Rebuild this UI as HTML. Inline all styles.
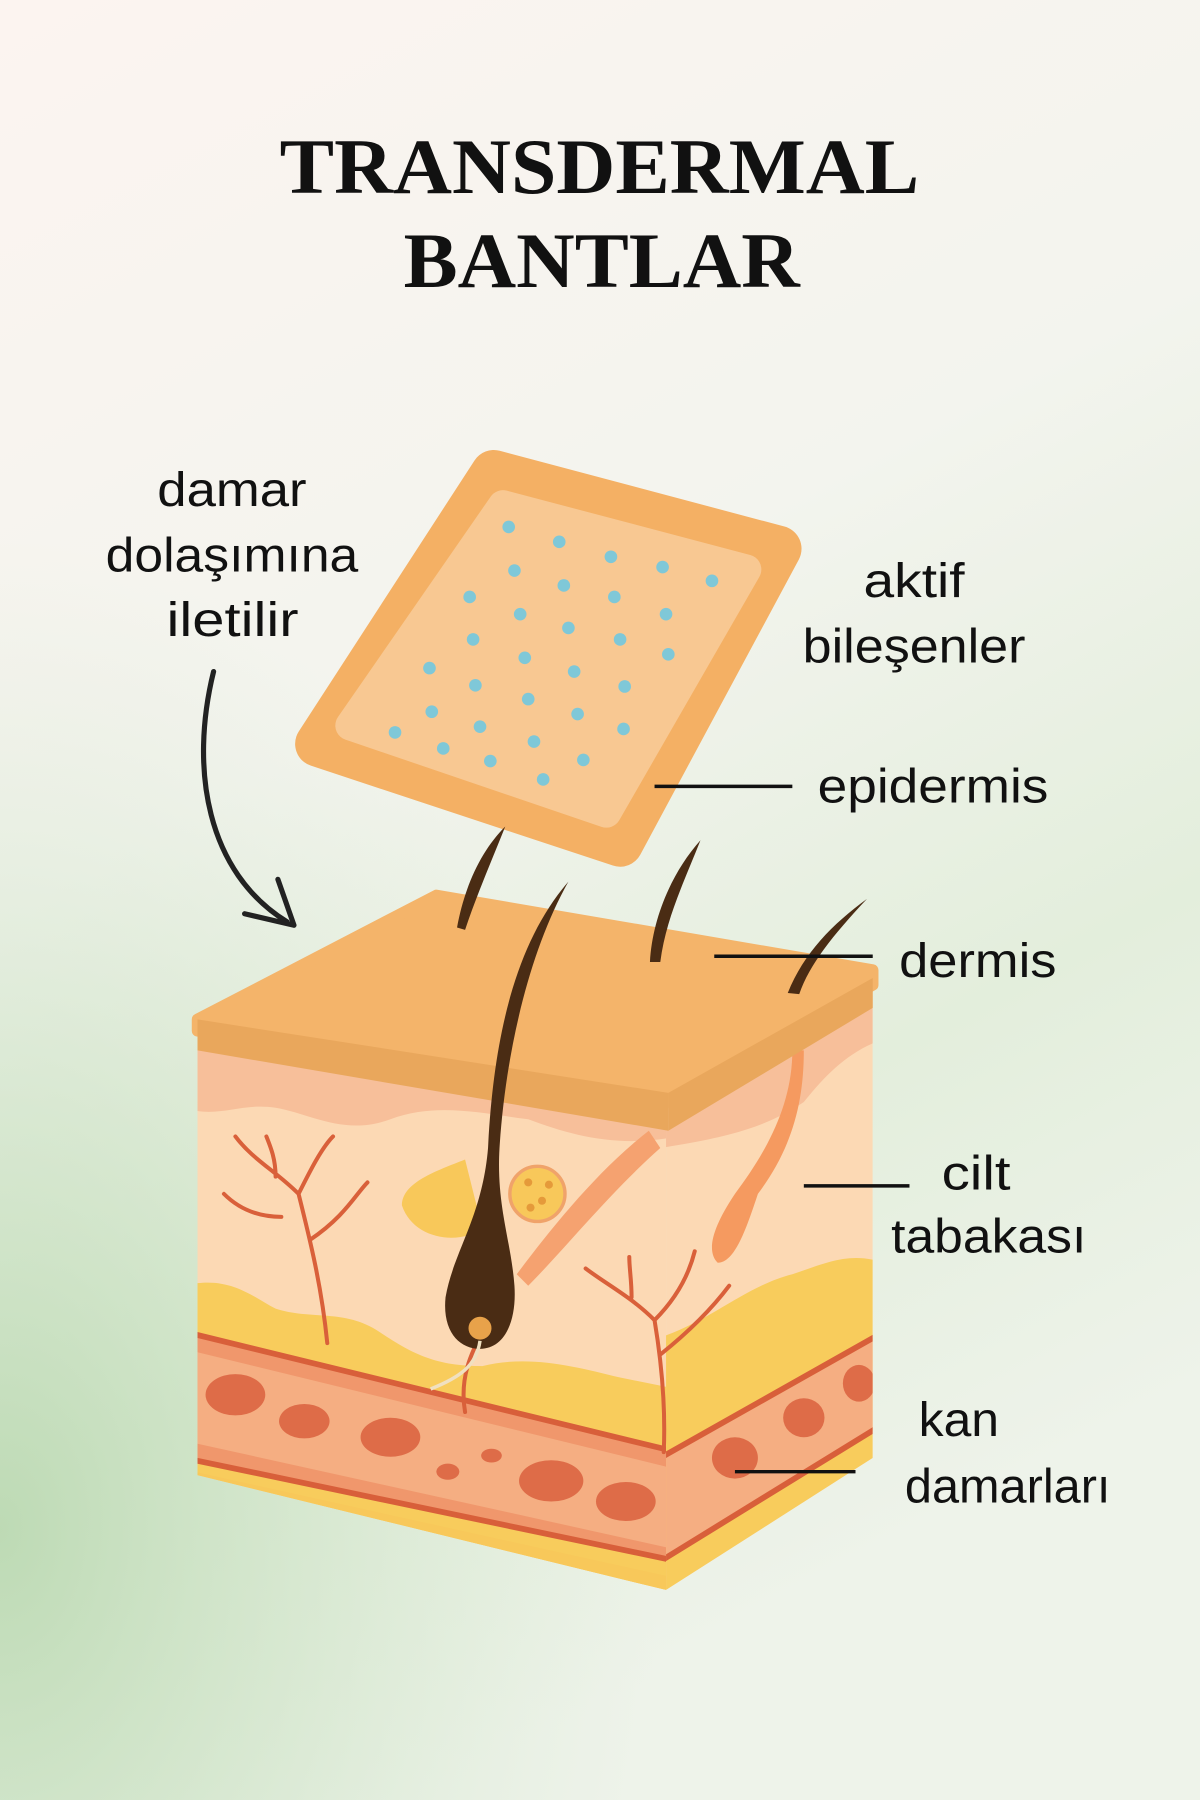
<!DOCTYPE html>
<html><head><meta charset="utf-8"><style>
html,body{margin:0;padding:0;width:1200px;height:1800px;overflow:hidden}
svg{display:block}
</style></head><body>
<svg width="1200" height="1800" viewBox="0 0 1045 1568" preserveAspectRatio="none" xmlns="http://www.w3.org/2000/svg">
<defs>
<linearGradient id="bg" x1="0" y1="0" x2="0.35" y2="1">
<stop offset="0" stop-color="#fcf4f0"/><stop offset="0.45" stop-color="#f3f4ee"/><stop offset="0.75" stop-color="#e3eedc"/><stop offset="1" stop-color="#eef3ea"/>
</linearGradient>
<radialGradient id="gr" cx="0" cy="0.85" r="0.55">
<stop offset="0" stop-color="#b9d8b0" stop-opacity="0.9"/><stop offset="1" stop-color="#d5e8cf" stop-opacity="0"/>
</radialGradient>
<clipPath id="front"><path d="M172,895 L580,960 L580,1385 L172,1285 Z"/></clipPath>
<clipPath id="side"><path d="M580,960 L760,855 L760,1270 L580,1385 Z"/></clipPath>
</defs>
<rect width="1045" height="1568" fill="url(#bg)"/>
<rect width="1045" height="1568" fill="url(#gr)"/>

<g font-family="'Liberation Serif',serif" font-weight="bold" font-size="68" text-anchor="middle" fill="#111">
<text x="522" y="168" textLength="557" lengthAdjust="spacingAndGlyphs">TRANSDERMAL</text>
<text x="524" y="250" textLength="345" lengthAdjust="spacingAndGlyphs">BANTLAR</text>
</g>

<!-- patch -->
<path d="M430,412 L678,478 L540,735 L277,648 Z" fill="#f4b064" stroke="#f4b064" stroke-width="40" stroke-linejoin="round"/>
<path d="M438,440 L650,496 L528,708 L305,632 Z" fill="#f8c892" stroke="#f8c892" stroke-width="26" stroke-linejoin="round"/>
<g fill="#7fc8d8">
<circle cx="443" cy="459" r="5.5"/><circle cx="487" cy="472" r="5.5"/><circle cx="532" cy="485" r="5.5"/><circle cx="577" cy="494" r="5.5"/><circle cx="620" cy="506" r="5.5"/>
<circle cx="448" cy="497" r="5.5"/><circle cx="491" cy="510" r="5.5"/><circle cx="535" cy="520" r="5.5"/><circle cx="580" cy="535" r="5.5"/>
<circle cx="409" cy="520" r="5.5"/><circle cx="453" cy="535" r="5.5"/><circle cx="495" cy="547" r="5.5"/><circle cx="540" cy="557" r="5.5"/><circle cx="582" cy="570" r="5.5"/>
<circle cx="412" cy="557" r="5.5"/><circle cx="457" cy="573" r="5.5"/><circle cx="500" cy="585" r="5.5"/><circle cx="544" cy="598" r="5.5"/>
<circle cx="374" cy="582" r="5.5"/><circle cx="414" cy="597" r="5.5"/><circle cx="460" cy="609" r="5.5"/><circle cx="503" cy="622" r="5.5"/><circle cx="543" cy="635" r="5.5"/>
<circle cx="376" cy="620" r="5.5"/><circle cx="418" cy="633" r="5.5"/><circle cx="465" cy="646" r="5.5"/><circle cx="508" cy="662" r="5.5"/>
<circle cx="344" cy="638" r="5.5"/><circle cx="386" cy="652" r="5.5"/><circle cx="427" cy="663" r="5.5"/><circle cx="473" cy="679" r="5.5"/>
</g>

<!-- cube front -->
<g clip-path="url(#front)">
<rect x="160" y="880" width="430" height="520" fill="#fcd9b4"/>
<path d="M160,900 L590,960 L590,990 C540,1000 500,990 460,975 C420,970 380,960 340,975 C300,990 270,970 240,965 C210,960 190,975 160,965 Z" fill="#f7bf9a"/>
<path d="M160,1120 C200,1110 220,1130 240,1140 C270,1150 300,1140 330,1160 C360,1180 380,1190 420,1190 C460,1180 500,1190 540,1200 L590,1210 L590,1400 L160,1400 Z" fill="#f8cc5c"/>
<path d="M160,1160 L590,1265 L590,1360 L160,1270 Z" fill="#f0976c"/>
<path d="M160,1175 L590,1280 L590,1350 L160,1255 Z" fill="#f5ae82"/>
<path d="M160,1160 L590,1265" stroke="#d85f3a" stroke-width="5"/>
<path d="M160,1270 L590,1360" stroke="#d85f3a" stroke-width="5"/>
<g fill="#de6c48"><ellipse cx="205" cy="1215" rx="26" ry="18"/><ellipse cx="265" cy="1238" rx="22" ry="15"/><ellipse cx="340" cy="1252" rx="26" ry="17"/><ellipse cx="390" cy="1282" rx="10" ry="7"/><ellipse cx="428" cy="1268" rx="9" ry="6"/><ellipse cx="480" cy="1290" rx="28" ry="18"/><ellipse cx="545" cy="1308" rx="26" ry="17"/></g>
<path d="M160,1280 L590,1375 L590,1400 L160,1400 Z" fill="#f8c85a"/>
</g>
<!-- cube side -->
<g clip-path="url(#side)">
<rect x="575" y="840" width="200" height="560" fill="#fcd9b4"/>
<path d="M575,965 L770,850 L770,905 C740,915 720,935 700,960 C670,980 640,990 575,1000 Z" fill="#f7bf9a"/>
<path d="M575,1165 C620,1150 650,1120 690,1110 C720,1100 740,1090 770,1100 L770,1400 L575,1400 Z" fill="#f8cc5c"/>
<path d="M575,1270 L770,1160 L770,1240 L575,1360 Z" fill="#f5ae82" stroke="#d85f3a" stroke-width="5"/>
<g fill="#de6c48"><ellipse cx="640" cy="1270" rx="20" ry="18"/><ellipse cx="700" cy="1235" rx="18" ry="17"/><ellipse cx="748" cy="1205" rx="14" ry="16"/></g>
</g>
<!-- vessels branches -->
<g fill="none" stroke="#d9603a" stroke-width="3.5" stroke-linecap="round">
<path d="M285,1170 C280,1120 270,1080 260,1040 M260,1040 C240,1020 220,1010 205,990 M260,1040 C270,1020 280,1000 290,990 M270,1080 C300,1060 310,1040 320,1030 M245,1060 C220,1060 205,1050 195,1040 M240,1025 C240,1010 236,1000 232,990"/>
<path d="M578,1265 C580,1220 575,1180 570,1150 M570,1150 C550,1130 530,1120 510,1105 M570,1150 C590,1130 600,1110 605,1090 M575,1180 C600,1160 620,1140 635,1120 M550,1130 C550,1115 548,1105 548,1095"/>
<path d="M405,1230 C400,1200 410,1180 420,1160"/>
</g>
<!-- glands -->
<path d="M350,1050 C350,1030 380,1020 405,1010 L420,1070 C400,1085 360,1080 350,1050 Z" fill="#f8c85a"/>
<circle cx="468" cy="1040" r="24" fill="#f8c85a" stroke="#f0a36a" stroke-width="3"/>
<g fill="#e59a3a"><circle cx="460" cy="1030" r="3.5"/><circle cx="472" cy="1046" r="3.5"/><circle cx="462" cy="1052" r="3.5"/><circle cx="478" cy="1032" r="3.5"/></g>
<path d="M450,1110 C480,1070 520,1020 565,985 L575,1000 C530,1040 490,1090 460,1120 Z" fill="#f5a270"/>
<path d="M690,915 C690,960 670,1000 640,1040 C620,1070 615,1090 625,1100 C640,1100 650,1070 660,1040 C690,1000 700,960 700,915 Z" fill="#f59a60"/>
<!-- top face -->
<path d="M172,888 L380,780 L760,845 L760,858 L582,960 L172,898 Z" fill="#f4b46a" stroke="#f4b46a" stroke-width="10" stroke-linejoin="round"/>
<path d="M172,888 L582,952 L582,985 L172,915 Z" fill="#e9a75c"/>
<path d="M582,952 L760,852 L760,878 L582,985 Z" fill="#e9a75c"/>
<!-- hairs -->
<g fill="#4a2c14">
<path d="M398,808 C405,770 420,740 440,720 C428,750 415,780 405,810 Z"/>
<path d="M566,838 C568,800 585,760 610,732 C595,770 580,800 575,838 Z"/>
<path d="M686,865 C700,830 725,805 755,783 C725,815 705,840 696,866 Z"/>
<path d="M495,768 C450,820 430,900 425,1000 C420,1060 395,1090 388,1130 C385,1160 400,1175 418,1175 C440,1175 450,1150 448,1120 C445,1080 432,1050 435,1000 C440,920 460,830 495,768 Z"/>
</g>
<circle cx="418" cy="1157" r="10" fill="#e8a24a"/>
<path d="M418,1168 C415,1190 400,1200 375,1210" fill="none" stroke="#f0e0c0" stroke-width="3"/>

<!-- arrow -->
<path d="M186,585 C165,670 180,760 250,803" fill="none" stroke="#222" stroke-width="4.5" stroke-linecap="round"/>
<path d="M213,796 L256,806 L242,766" fill="none" stroke="#222" stroke-width="4.5" stroke-linecap="round" stroke-linejoin="round"/>

<!-- leader lines -->
<g stroke="#111" stroke-width="3">
<line x1="570" y1="685" x2="690" y2="685"/>
<line x1="622" y1="833" x2="760" y2="833"/>
<line x1="700" y1="1033" x2="792" y2="1033"/>
<line x1="640" y1="1282" x2="745" y2="1282"/>
</g>

<g font-family="'Liberation Sans',sans-serif" font-size="42" fill="#111" lengthAdjust="spacingAndGlyphs">
<text x="137" y="441" textLength="130" lengthAdjust="spacingAndGlyphs">damar</text>
<text x="92" y="498" textLength="220" lengthAdjust="spacingAndGlyphs">dolaşımına</text>
<text x="145" y="554" textLength="115" lengthAdjust="spacingAndGlyphs">iletilir</text>
<text x="752" y="520" textLength="88" lengthAdjust="spacingAndGlyphs">aktif</text>
<text x="699" y="577" textLength="194" lengthAdjust="spacingAndGlyphs">bileşenler</text>
<text x="712" y="699" textLength="201" lengthAdjust="spacingAndGlyphs">epidermis</text>
<text x="783" y="851" textLength="137" lengthAdjust="spacingAndGlyphs">dermis</text>
<text x="820" y="1036" textLength="60" lengthAdjust="spacingAndGlyphs">cilt</text>
<text x="776" y="1091" textLength="170" lengthAdjust="spacingAndGlyphs">tabakası</text>
<text x="800" y="1251" textLength="70" lengthAdjust="spacingAndGlyphs">kan</text>
<text x="788" y="1309" textLength="179" lengthAdjust="spacingAndGlyphs">damarları</text>
</g>
</svg>
</body></html>
